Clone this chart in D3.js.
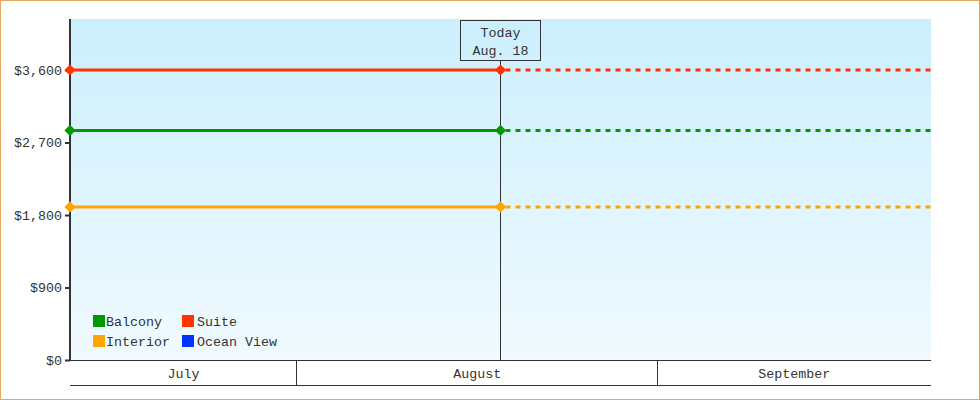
<!DOCTYPE html>
<html><head><meta charset="utf-8">
<script src="https://cdn.jsdelivr.net/npm/d3@7"></script>
<style>body{margin:0;background:#fff}svg{display:block}text{font-family:"Liberation Mono",monospace;font-size:13.33px;fill:#333}</style>
</head><body>
<script>
const seriesNames = ["Balcony", "Suite", "Interior", "Ocean View"];
const seriesColors = ["#009900", "#ff3300", "#ffa500", "#0033ff"];
const seriesValues = [2850, 3600, 1900, null];
const yTicks = [0, 900, 1800, 2700, 3600];
const months = ["July", "August", "September"];
const monthStarts = ["2023-07-01", "2023-08-01", "2023-09-01", "2023-10-01"];
const todayLabel = ["Today", "Aug. 18"];
const todayDate = "2023-08-18T12:00:00";
const rangeDays = 37;

const W = 980, H = 400;
const m = {l: 70, r: 931, t: 19, b: 360};
const FONT = '"Liberation Mono",monospace';
const svg = d3.select("body").append("svg").attr("width", W).attr("height", H);

const defs = svg.append("defs");
const g = defs.append("linearGradient").attr("id", "bg").attr("x1", 0).attr("y1", 0).attr("x2", 0).attr("y2", 1);
g.append("stop").attr("offset", "0%").attr("stop-color", "#cceffd");
g.append("stop").attr("offset", "100%").attr("stop-color", "#f0faff");

svg.append("rect").attr("x", 0.5).attr("y", 0.5).attr("width", W - 1).attr("height", H - 1)
  .attr("fill", "#fff").attr("stroke", "#e8a860");

svg.append("rect").attr("x", m.l).attr("y", m.t).attr("width", m.r - m.l).attr("height", m.b - m.t).attr("fill", "url(#bg)");

const today = new Date(todayDate);
const x = d3.scaleTime()
  .domain([d3.timeDay.offset(today, -rangeDays), d3.timeDay.offset(today, rangeDays)])
  .range([m.l, m.r]);
const y = d3.scaleLinear().domain([0, 4233]).range([m.b, m.t]);

// y axis
const ya = svg.append("g").attr("transform", `translate(${m.l},0)`)
  .call(d3.axisLeft(y).tickValues(yTicks).tickSize(5).tickPadding(3).tickFormat(d => "$" + d3.format(",")(d)));
ya.select(".domain").remove();
ya.selectAll(".tick line").attr("stroke", "#333").attr("stroke-width", 2);
ya.selectAll("text").style("font-family", FONT).style("font-size", "13.33px").attr("fill", "#333");
svg.append("line").attr("x1", m.l).attr("x2", m.l).attr("y1", m.t).attr("y2", m.b).attr("stroke", "#333").attr("stroke-width", 2);

// month band
const band = svg.append("g");
band.append("line").attr("x1", m.l).attr("x2", m.r).attr("y1", m.b + 0.5).attr("y2", m.b + 0.5).attr("stroke", "#333");
band.append("line").attr("x1", m.l).attr("x2", m.r).attr("y1", 385.5).attr("y2", 385.5).attr("stroke", "#333");
months.forEach((name, i) => {
  const s = Math.max(m.l, x(new Date(monthStarts[i] + "T00:00:00")));
  const e = Math.min(m.r, x(new Date(monthStarts[i + 1] + "T00:00:00")));
  if (i > 0) band.append("line").attr("x1", Math.floor(s) + 0.5).attr("x2", Math.floor(s) + 0.5).attr("y1", m.b).attr("y2", 385).attr("stroke", "#333");
  band.append("text").attr("x", (s + e) / 2).attr("y", 377.5).attr("text-anchor", "middle").text(name);
});

// today line
const tx = Math.floor(x(today)) + 0.5;
svg.append("line").attr("x1", tx).attr("x2", tx).attr("y1", 60).attr("y2", m.b).attr("stroke", "#333");
svg.append("rect").attr("x", tx - 40).attr("y", 20.5).attr("width", 80).attr("height", 40).attr("fill", "none").attr("stroke", "#333");
svg.append("text").attr("x", tx).attr("y", 37).attr("text-anchor", "middle").text(todayLabel[0]);
svg.append("text").attr("x", tx).attr("y", 55).attr("text-anchor", "middle").text(todayLabel[1]);

// series
seriesNames.forEach((n, i) => {
  const v = seriesValues[i];
  if (v == null) return;
  const c = seriesColors[i];
  const yy = y(v);
  svg.append("line").attr("x1", m.l).attr("x2", tx).attr("y1", yy).attr("y2", yy).attr("stroke", c).attr("stroke-width", 3);
  svg.append("line").attr("x1", tx + 5).attr("x2", m.r).attr("y1", yy).attr("y2", yy).attr("stroke", c).attr("stroke-width", 3).attr("stroke-dasharray", "5,5");
  [m.l, tx].forEach(px => {
    svg.append("path").attr("d", d3.symbol(d3.symbolDiamond2, 80)()).attr("transform", `translate(${px},${yy})`).attr("fill", c);
  });
});

// legend
const lg = svg.append("g");
const legendCols = [93, 182], legendTextOff = [13, 15];
seriesNames.forEach((n, i) => {
  const col = i % 2, row = Math.floor(i / 2);
  const lx = legendCols[col], ly = 315 + row * 20;
  lg.append("rect").attr("x", lx).attr("y", ly).attr("width", 12).attr("height", 12).attr("fill", seriesColors[i]);
  lg.append("text").attr("x", lx + legendTextOff[col]).attr("y", ly + 10.5).text(n);
});
</script>
</body></html>
